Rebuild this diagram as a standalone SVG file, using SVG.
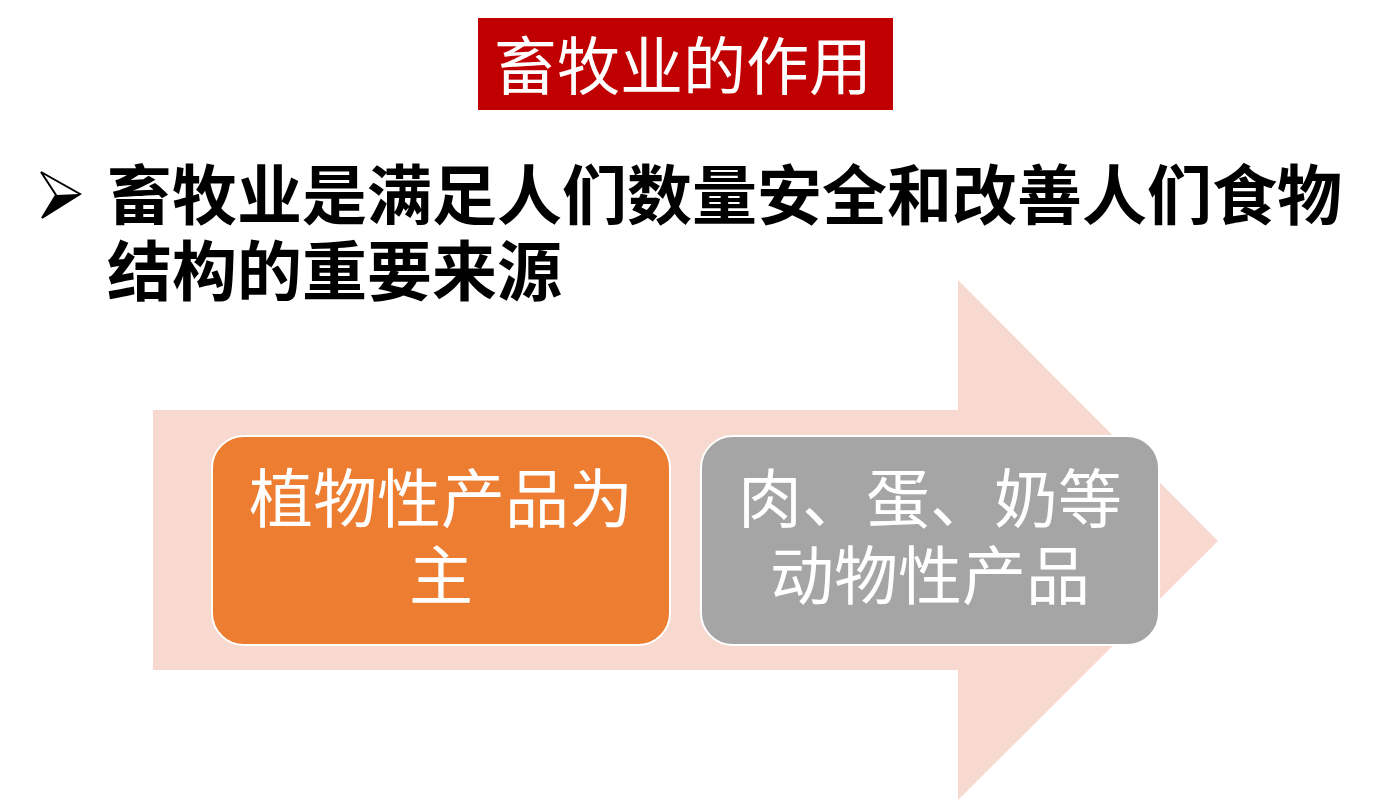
<svg xmlns="http://www.w3.org/2000/svg" width="1374" height="802" viewBox="0 0 1374 802">
<style>
.cjk{font-family:"Noto Sans CJK SC","Noto Sans",sans-serif;}
.w{fill:#FFFFFF;}
.box{stroke:#FFFFFF;stroke-width:2;}
</style>
<rect x="0" y="0" width="1374" height="802" fill="#FFFFFF"/>
<g id="title">
<rect x="478" y="18" width="415" height="92" fill="#C00000"/>
<text class="cjk w" x="683" y="89" font-size="63" text-anchor="middle">畜牧业的作用</text>
</g>
<g id="bullet">
<path d="M41,172 L80,194 L42,218 L56,195 Z" fill="#FFFFFF" stroke="#000000" stroke-width="2" stroke-linejoin="miter"/>
<path d="M56,195 L80,194 L42,218 Z" fill="#000000"/>
<text class="cjk" x="107" y="219" font-size="65" font-weight="bold" fill="#000000">畜牧业是满足人们数量安全和改善人们食物</text>
<text class="cjk" x="107" y="295" font-size="65" font-weight="bold" fill="#000000">结构的重要来源</text>
</g>
<g id="arrow">
<polygon points="153,410 958,410 958,280 1218,541 958,800 958,670 153,670" fill="#F8D9CF"/>
</g>
<g id="node-plant">
<rect class="box" x="212" y="436" width="458" height="209" rx="32" fill="#ED7D31"/>
<text class="cjk w" x="441" y="522" font-size="64" text-anchor="middle">植物性产品为</text>
<text class="cjk w" x="441" y="599" font-size="64" text-anchor="middle">主</text>
</g>
<g id="node-animal">
<rect class="box" x="701" y="436" width="458" height="209" rx="32" fill="#A5A5A5"/>
<text class="cjk w" x="930" y="522" font-size="64" text-anchor="middle">肉、蛋、奶等</text>
<text class="cjk w" x="930" y="599" font-size="64" text-anchor="middle">动物性产品</text>
</g>
<g id="connectors"></g>
</svg>
